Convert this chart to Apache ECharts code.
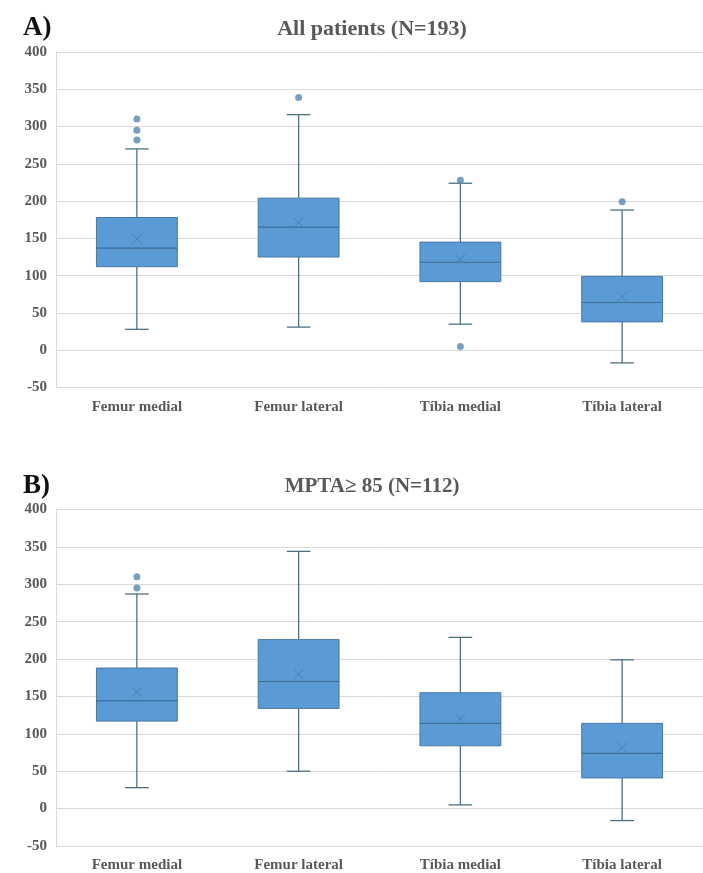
<!DOCTYPE html>
<html>
<head>
<meta charset="utf-8">
<script src="https://cdn.jsdelivr.net/npm/echarts@6/dist/echarts.min.js"></script>
<style>html,body{margin:0;padding:0;background:#fff;}#c{width:703px;height:873px;}</style>
</head>
<body>
<div id="c"></div>
<script>
var categories = ['Femur medial', 'Femur lateral', 'Tíbia medial', 'Tíbia lateral'];
var yTicks = [-50, 0, 50, 100, 150, 200, 250, 300, 350, 400];

// [min whisker, Q1, median, Q3, max whisker, mean]
var statsA = [
  [28, 112, 137, 178, 270, 149],
  [31, 125, 165, 204, 316, 171],
  [35, 92, 118, 145, 224, 122],
  [-17, 38, 64, 99, 188, 72]
];
var outliersA = [[0, 310], [0, 295], [0, 282], [1, 339], [2, 228], [2, 5], [3, 199]];

var statsB = [
  [28, 117, 144, 188, 287, 156],
  [50, 134, 170, 226, 344, 180],
  [5, 84, 114, 155, 229, 120],
  [-16, 41, 74, 114, 199, 82]
];
var outliersB = [[0, 310], [0, 295]];

var titleA = 'All patients (N=193)';
var titleB = 'MPTA\u2265 85 (N=112)';

var FONT = '"Liberation Serif", "Times New Roman", serif';
var TXT = '#595959';

function renderBox(params, api) {
  var x = api.value(0);
  var band = api.size([1, 0])[0];
  var half = band * 0.25;
  var cap = band * 0.073;
  var pMin = api.coord([x, api.value(1)]);
  var pQ1 = api.coord([x, api.value(2)]);
  var pMed = api.coord([x, api.value(3)]);
  var pQ3 = api.coord([x, api.value(4)]);
  var pMax = api.coord([x, api.value(5)]);
  var pMean = api.coord([x, api.value(6)]);
  var cx = pMed[0];
  var wStyle = { stroke: '#4f6f80', lineWidth: 1.3 };
  var m = 5;
  return {
    type: 'group',
    children: [
      { type: 'line', shape: { x1: cx, y1: pMax[1], x2: cx, y2: pQ3[1] }, style: wStyle },
      { type: 'line', shape: { x1: cx, y1: pQ1[1], x2: cx, y2: pMin[1] }, style: wStyle },
      { type: 'line', shape: { x1: cx - cap, y1: pMax[1], x2: cx + cap, y2: pMax[1] }, style: wStyle },
      { type: 'line', shape: { x1: cx - cap, y1: pMin[1], x2: cx + cap, y2: pMin[1] }, style: wStyle },
      { type: 'rect', shape: { x: cx - half, y: pQ3[1], width: half * 2, height: pQ1[1] - pQ3[1] },
        style: { fill: '#5b9bd5', stroke: '#4a78a3', lineWidth: 1 } },
      { type: 'line', shape: { x1: cx - half, y1: pMed[1], x2: cx + half, y2: pMed[1] },
        style: { stroke: '#3d6d99', lineWidth: 1.2 } },
      { type: 'line', shape: { x1: cx - m, y1: pMean[1] - m, x2: cx + m, y2: pMean[1] + m },
        style: { stroke: '#4a7eb0', lineWidth: 1 } },
      { type: 'line', shape: { x1: cx - m, y1: pMean[1] + m, x2: cx + m, y2: pMean[1] - m },
        style: { stroke: '#4a7eb0', lineWidth: 1 } }
    ]
  };
}

function boxData(stats) {
  return stats.map(function (s, i) { return [i].concat(s); });
}

function xAxis(gi) {
  return {
    type: 'category', gridIndex: gi, data: categories,
    axisLine: { lineStyle: { color: '#d9d9d9' } },
    axisTick: { show: false },
    axisLabel: { color: TXT, fontFamily: FONT, fontWeight: 'bold', fontSize: 15, margin: 12 }
  };
}
function yAxis(gi) {
  return {
    type: 'value', gridIndex: gi, min: yTicks[0], max: yTicks[yTicks.length - 1], interval: 50,
    axisLine: { show: true, lineStyle: { color: '#d9d9d9' } },
    axisTick: { show: false },
    splitLine: { lineStyle: { color: '#d9d9d9', width: 1 } },
    axisLabel: { color: TXT, fontFamily: FONT, fontWeight: 'bold', fontSize: 15, margin: 9 }
  };
}

var chart = echarts.init(document.getElementById('c'), null, { renderer: 'canvas' });
chart.setOption({
  animation: false,
  backgroundColor: '#ffffff',
  title: [
    { text: 'A)', left: 18, top: 10, textStyle: { fontFamily: FONT, fontWeight: 'bold', fontSize: 27, color: '#111' } },
    { text: titleA, left: 367, top: 13, textAlign: 'center', textStyle: { fontFamily: FONT, fontWeight: 'bold', fontSize: 22, color: TXT } },
    { text: 'B)', left: 18, top: 468, textStyle: { fontFamily: FONT, fontWeight: 'bold', fontSize: 27, color: '#111' } },
    { text: titleB, left: 367, top: 471, textAlign: 'center', textStyle: { fontFamily: FONT, fontWeight: 'bold', fontSize: 21, color: TXT } }
  ],
  grid: [
    { left: 56, top: 52, width: 663, height: 335.5 },
    { left: 56, top: 509.5, width: 663, height: 336.5 }
  ],
  xAxis: [xAxis(0), xAxis(1)],
  yAxis: [yAxis(0), yAxis(1)],
  series: [
    { type: 'custom', xAxisIndex: 0, yAxisIndex: 0, renderItem: renderBox, data: boxData(statsA),
      encode: { x: 0, y: [1, 2, 3, 4, 5, 6] }, z: 3 },
    { type: 'scatter', xAxisIndex: 0, yAxisIndex: 0, data: outliersA, symbolSize: 7,
      itemStyle: { color: '#5a86b0' }, z: 4 },
    { type: 'custom', xAxisIndex: 1, yAxisIndex: 1, renderItem: renderBox, data: boxData(statsB),
      encode: { x: 0, y: [1, 2, 3, 4, 5, 6] }, z: 3 },
    { type: 'scatter', xAxisIndex: 1, yAxisIndex: 1, data: outliersB, symbolSize: 7,
      itemStyle: { color: '#5a86b0' }, z: 4 }
  ]
});
</script>
</body>
</html>
